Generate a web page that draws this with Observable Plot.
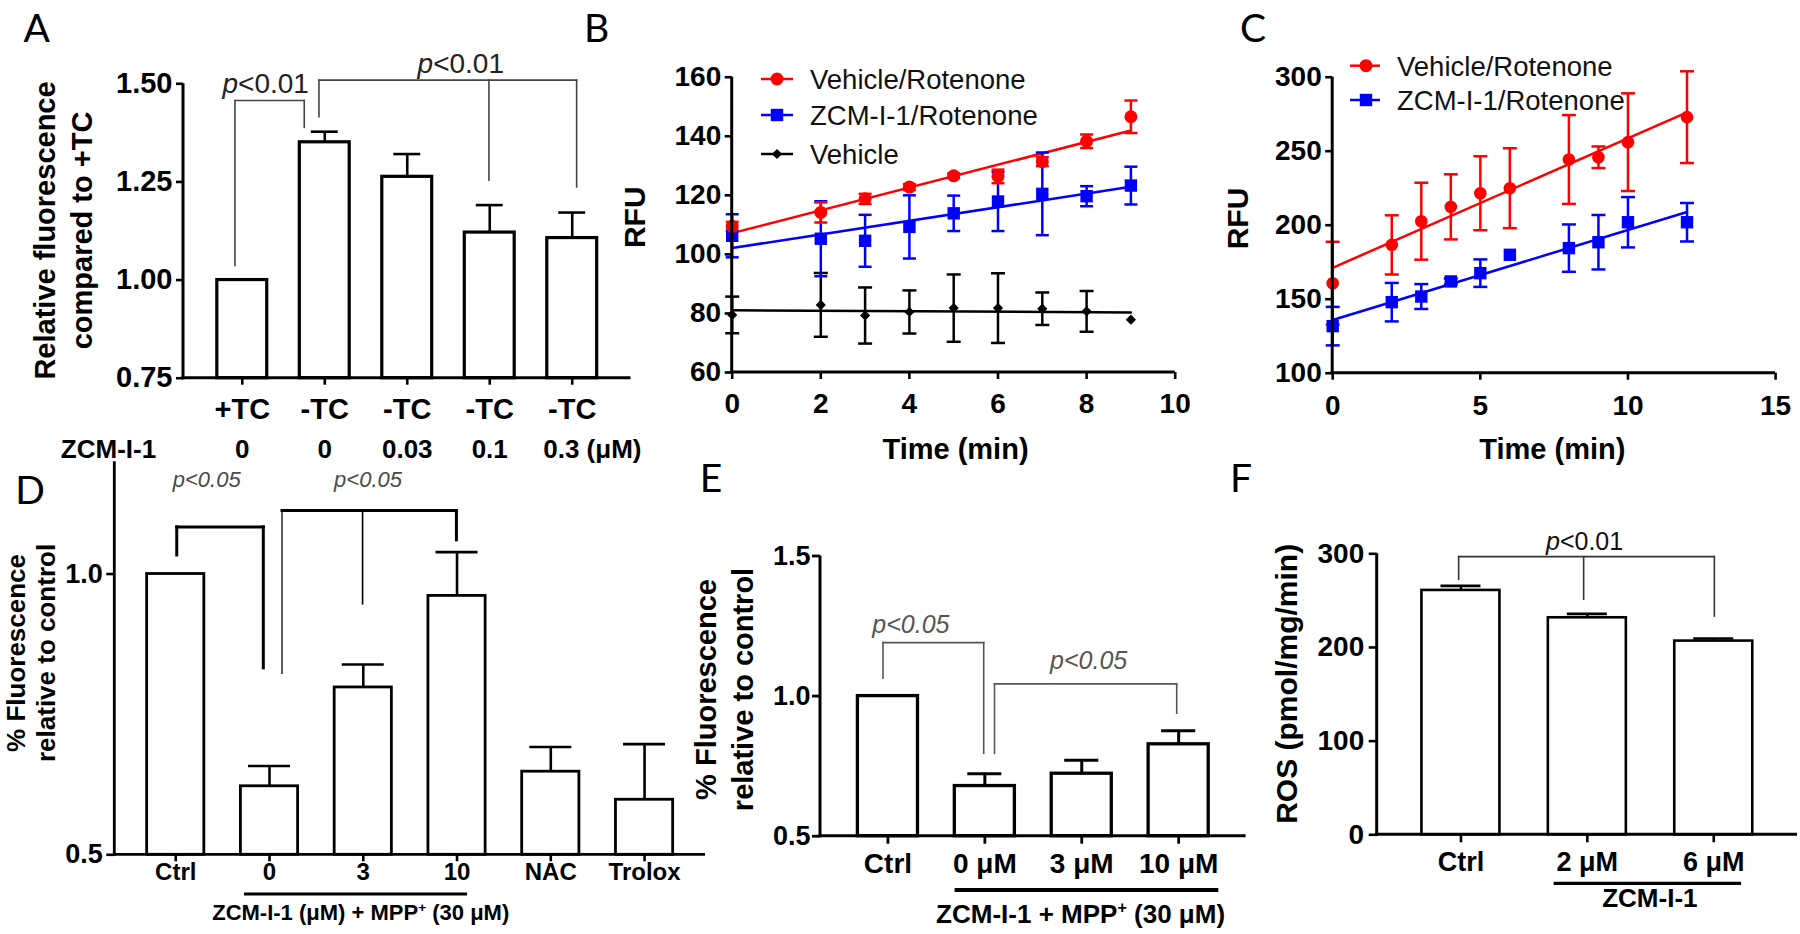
<!DOCTYPE html>
<html>
<head>
<meta charset="utf-8">
<script src="https://cdn.jsdelivr.net/npm/d3@7"></script>
<script src="https://cdn.jsdelivr.net/npm/@observablehq/plot@0.6"></script>
<style>
  html, body { margin: 0; padding: 0; background: #fff; }
  #fig { position: relative; width: 1800px; height: 934px; overflow: hidden; background: #fff; }
  .panel { position: absolute; }
  .panel svg { display: block; overflow: visible; max-width: none; }
</style>
</head>
<body>
<div id="fig"></div>
<script>
// ======================= DATA =======================
// Panel A
const aGroups = ["+TC", "-TC", "-TC", "-TC", "-TC"];
const aDoses = ["0", "0", "0.03", "0.1", "0.3"];
const aMeans = [1.00, 1.351, 1.263, 1.121, 1.107];
const aErrs = [0, 0.027, 0.058, 0.070, 0.065];
const aYDomain = [0.75, 1.5];
const aYTicks = [0.75, 1.00, 1.25, 1.50];
const aDoseTitle = "ZCM-I-1";
const aDoseUnit = "(\u03bcM)";
const aYLabel = "Relative fluorescence\ncompared to +TC";
const aPText = ["p<0.01", "p<0.01"];

// Panel B
const bTime = [0, 2, 3, 4, 5, 6, 7, 8, 9];
const bVehRot = [109.5, 114.2, 118.8, 122.8, 126.6, 126.4, 131.4, 138.3, 146.6];
const bVehRotErr = [1.5, 3.4, 1.7, 1.0, 0.8, 2.3, 1.5, 2.3, 5.5];
const bZcmRot = [106.3, 105.3, 104.6, 109.3, 113.9, 117.9, 120.5, 119.7, 123.3];
const bZcmRotErr = [7.3, 12.7, 8.8, 10.7, 6.0, 10.0, 14.0, 3.4, 6.4];
const bVeh = [79.5, 82.9, 79.3, 80.5, 81.8, 81.8, 81.6, 80.7, 77.9];
const bVehErr = [6.2, 10.8, 9.5, 7.3, 11.4, 11.8, 5.5, 6.9, 0];
const bXDomain = [0, 10], bYDomain = [60, 160];
const bXTicks = [0, 2, 4, 6, 8, 10];
const bYTicks = [60, 80, 100, 120, 140, 160];
const seriesNames = ["Vehicle/Rotenone", "ZCM-I-1/Rotenone", "Vehicle"];

// Panel C
const cTime = [0, 2, 3, 4, 5, 6, 8, 9, 10, 12];
const cVehRot = [160.8, 186.7, 202.7, 212.4, 221.6, 225.0, 244.4, 245.9, 256.1, 273.0];
const cVehRotErr = [28, 20, 26, 22, 25, 27, 30, 7.3, 33, 31];
const cZcmRot = [131.8, 148.0, 151.8, 162.0, 167.6, 180.0, 184.5, 188.5, 202.0, 202.0];
const cZcmRotErr = [13, 13, 8.4, 2, 9.3, 0, 16, 18.4, 17, 13];
const cXDomain = [0, 15], cYDomain = [100, 300];
const cXTicks = [0, 5, 10, 15];
const cYTicks = [100, 150, 200, 250, 300];

const xTitle = "Time (min)";
const rfuTitle = "RFU";

// Panel D
const dCats = ["Ctrl", "0", "3", "10", "NAC", "Trolox"];
const dMeans = [1.00, 0.622, 0.798, 0.961, 0.648, 0.598];
const dErrs = [0, 0.036, 0.041, 0.078, 0.044, 0.099];
const dYDomain = [0.5, 1.2];
const dYTicks = [0.5, 1.0];
const dYLabel = "% Fluorescence\nrelative to control";
const dGroupLabel = "ZCM-I-1 (\u03bcM) + MPP^+ (30 \u03bcM)";

// Panel E
const eCats = ["Ctrl", "0 \u03bcM", "3 \u03bcM", "10 \u03bcM"];
const eMeans = [1.00, 0.679, 0.723, 0.828];
const eErrs = [0, 0.044, 0.048, 0.048];
const eYDomain = [0.5, 1.5];
const eYTicks = [0.5, 1.0, 1.5];
const eYLabel = "% Fluorescence\nrelative to control";
const eGroupLabel = "ZCM-I-1 + MPP^+ (30 \u03bcM)";

// Panel F
const fCats = ["Ctrl", "2 \u03bcM", "6 \u03bcM"];
const fMeans = [260.9, 231.7, 206.8];
const fErrs = [4.9, 4.2, 2.8];
const fYDomain = [0, 300];
const fYTicks = [0, 100, 200, 300];
const fYLabel = "ROS (pmol/mg/min)";
const fGroupLabel = "ZCM-I-1";

// Significance brackets (category indices, values in data units)
const aBrackets = [
  {from: 0, to: 1, yFrom: 1.036, yTo: 1.388, top: 1.456, label: aPText[0], labelY: 1.4745},
  {from: 1, to: 4, yFrom: 1.415, yTo: 1.236, top: 1.508, mids: [{at: 3, y: 1.253}], label: aPText[1], labelY: 1.5255}
];
const dBrackets = [
  {from: 0, to: 1, yFrom: 1.033, yTo: 0.832, top: 1.083, label: "p<0.05", labelY: 1.1546},
  {from: 1, to: 3, yFrom: 0.822, yTo: 1.060, top: 1.112, mids: [{at: 2, y: 0.946}], label: "p<0.05", labelY: 1.1546}
];
const eBrackets = [
  {from: 0, to: 1, yFrom: 1.062, yTo: 0.794, top: 1.189, label: "p<0.05", labelY: 1.223},
  {from: 1, to: 3, yFrom: 0.794, yTo: 0.937, top: 1.042, label: "p<0.05", labelY: 1.094}
];
const fBrackets = [
  {from: 0, to: 2, yFrom: 272.2, yTo: 233.0, top: 296.4, mids: [{at: 1, y: 250.9}], label: "p<0.01", labelY: 303.5}
];

// ======================= HELPERS =======================
const FONT = '"Liberation Sans", Arial, Helvetica, sans-serif';
const RED = "#ff0000", BLUE = "#0000ff", BLACK = "#000000";
const baseStyle = {background: "transparent", color: "#000", fontFamily: FONT, fontSize: "28px", fontWeight: "bold", overflow: "visible"};

function layout(box, frame) {
  const [L, T, W, H] = box; const [x0, x1, y0, y1] = frame;
  return {width: W, height: H, marginLeft: x0 - L, marginRight: L + W - x1, marginTop: y0 - T, marginBottom: T + H - y1};
}
function place(node, box) {
  const div = document.createElement("div");
  div.className = "panel";
  Object.assign(div.style, {left: box[0] + "px", top: box[1] + "px", width: box[2] + "px", height: box[3] + "px"});
  div.appendChild(node);
  document.getElementById("fig").appendChild(div);
}
function frameLines(sw) {
  return (index, scales, values, dim) => {
    const {width, height, marginLeft: ml, marginRight: mr, marginTop: mt, marginBottom: mb} = dim;
    const g = d3.create("svg:g").attr("stroke", "#000").attr("stroke-width", sw).attr("fill", "none");
    g.append("line").attr("x1", ml).attr("x2", ml).attr("y1", mt).attr("y2", height - mb + sw / 2);
    g.append("line").attr("x1", ml - sw / 2).attr("x2", width - mr).attr("y1", height - mb).attr("y2", height - mb);
    return g.node();
  };
}
function writeP(text, str, allItalic) {
  if (allItalic) { text.attr("font-style", "italic").text(str); return; }
  text.append("tspan").attr("font-style", "italic").text(str.slice(0, 1));
  text.append("tspan").text(str.slice(1));
}
// bracket mark drawn through the plot's own x/y scales
function bracketMark(list, keys, st) {
  return (index, scales) => {
    const x = scales.x, y = scales.y;
    const half = typeof x.bandwidth === "function" ? x.bandwidth() / 2 : 0;
    const cx = (i, dx) => x(keys[i]) + half + (dx || 0);
    const g = d3.create("svg:g").attr("fill", "none");
    const seg = (x1, y1, x2, y2, w) => g.append("line").attr("x1", x1).attr("y1", y1).attr("x2", x2).attr("y2", y2)
      .attr("stroke", st.stroke).attr("stroke-width", w).attr("stroke-linecap", "square");
    list.forEach((b, k) => {
      const o = st.offsets[k];
      const x1 = cx(b.from, o.dxFrom), x2 = cx(b.to, o.dxTo), yt = y(b.top);
      const w = o.widths || [st.sw, st.sw, st.sw, st.sw];
      seg(x1, y(b.yFrom), x1, yt, w[0]);
      seg(x1, yt, x2, yt, w[1]);
      seg(x2, yt, x2, y(b.yTo), w[2]);
      (b.mids || []).forEach((m, j) => { const xm = cx(m.at, (o.midDx || [])[j]); seg(xm, yt, xm, y(m.y), w[3]); });
      const t = g.append("text").attr("fill", st.color).attr("stroke", "none").attr("font-family", FONT)
        .attr("font-size", st.fontSize).attr("font-weight", "normal").attr("text-anchor", "middle")
        .attr("x", (x1 + x2) / 2 + (o.labelDx || 0)).attr("y", y(b.labelY));
      writeP(t, b.label, st.allItalic);
    });
    return g.node();
  };
}
// underline + group caption below a set of categories
function groupMark(keys, g, st) {
  return (index, scales, values, dim) => {
    const x = scales.x, half = x.bandwidth() / 2;
    const base = dim.height - dim.marginBottom;
    const x1 = x(keys[g.from]) + half + g.dxFrom, x2 = x(keys[g.to]) + half + g.dxTo;
    const G = d3.create("svg:g");
    G.append("line").attr("x1", x1).attr("x2", x2).attr("y1", base + g.dy).attr("y2", base + g.dy)
      .attr("stroke", "#000").attr("stroke-width", st.sw);
    const t = G.append("text").attr("x", (x1 + x2) / 2 + g.labelDx).attr("y", base + g.labelDy + 0.36 * st.fontSize)
      .attr("text-anchor", "middle").attr("font-family", FONT).attr("font-weight", "bold")
      .attr("font-size", st.fontSize).attr("fill", "#000");
    const parts = g.label.split("^+");
    t.append("tspan").text(parts[0]);
    if (parts.length > 1) {
      t.append("tspan").attr("font-size", st.fontSize * 0.62).attr("dy", -st.fontSize * 0.38).text("+");
      t.append("tspan").attr("dy", st.fontSize * 0.38).text(parts[1]);
    }
    return G.node();
  };
}
const capSym = {draw(ctx, size) { const w = Math.sqrt(size / Math.PI); ctx.moveTo(-w, 0); ctx.lineTo(w, 0); }};
function series(time, vals, errs) { return time.map((t, i) => ({t, v: vals[i], e: errs[i]})); }
function errMarks(data, color, capR, sw) {
  const d = data.filter(p => p.e > 0);
  return [
    Plot.ruleX(d, {x: "t", y1: p => p.v - p.e, y2: p => p.v + p.e, stroke: color, strokeWidth: sw}),
    Plot.dot(d, {x: "t", y: p => p.v + p.e, symbol: capSym, r: capR, stroke: color, fill: "none", strokeWidth: sw}),
    Plot.dot(d, {x: "t", y: p => p.v - p.e, symbol: capSym, r: capR, stroke: color, fill: "none", strokeWidth: sw})
  ];
}
function barMarks(data, keys, yDomain, o) {
  const withErr = data.filter(d => d.err > 0);
  return [
    Plot.barY(data, {x: "key", y1: () => yDomain[0], y2: "mean", fill: "#fff", stroke: "#000", strokeWidth: o.sw}),
    Plot.ruleX(withErr, {x: "key", y1: "mean", y2: d => d.mean + d.err, stroke: "#000", strokeWidth: o.esw}),
    Plot.tickY(withErr, {x: "key", y: d => d.mean + d.err, stroke: "#000", strokeWidth: o.esw, insetLeft: o.capInset, insetRight: o.capInset})
  ];
}
const yTitle = (text, dx, dy, fontSize, lineHeight) =>
  Plot.text([text], {frameAnchor: "left", dx, dy, rotate: -90, textAnchor: "middle", lineAnchor: "middle",
    fontSize, fontWeight: "bold", lineHeight: lineHeight || 1, fill: "#000"});
const belowText = (data, opts) => Plot.text(data, {frameAnchor: "bottom", lineAnchor: "middle", fontWeight: "bold", ...opts});

// ======================= PANEL A =======================
{
  const data = aGroups.map((g, i) => ({key: g + "|" + aDoses[i], group: g, dose: aDoses[i], mean: aMeans[i], err: aErrs[i]}));
  const keys = data.map(d => d.key);
  const box = [0, 0, 670, 470];
  place(Plot.plot({
    ...layout(box, [183, 630.5, 83.3, 377.7]),
    style: baseStyle,
    x: {domain: keys, paddingInner: 0.395, paddingOuter: 0.41, round: false, label: null},
    y: {domain: aYDomain, label: null},
    marks: [
      ...barMarks(data, keys, aYDomain, {sw: 3.2, esw: 2.6, capInset: 11.5}),
      frameLines(3),
      Plot.axisY({ticks: aYTicks, tickFormat: d3.format(".2f"), tickSize: 7, tickPadding: 4, fontSize: 29, fontWeight: "bold", strokeWidth: 2.6, label: null}),
      Plot.axisX({tickFormat: k => k.split("|")[0], tickSize: 7, tickPadding: 13.6, fontSize: 29, fontWeight: "bold", strokeWidth: 2.6, label: null}),
      belowText(data.slice(0, 4), {x: "key", text: "dose", dy: 71.3, fontSize: 26}),
      belowText(data.slice(4), {x: "key", text: d => d.dose + " " + aDoseUnit, dy: 71.3, dx: -29, textAnchor: "start", fontSize: 26}),
      Plot.text([aDoseTitle], {frameAnchor: "bottom-left", lineAnchor: "middle", dx: -75, dy: 71.3, textAnchor: "middle", fontSize: 26, fontWeight: "bold"}),
      yTitle(aYLabel, -121.5, -0.5, 29, 1.28),
      bracketMark(aBrackets, keys, {stroke: "#444", sw: 1.6, color: "#222", fontSize: 28, allItalic: false,
        offsets: [{dxFrom: -6.8, dxTo: -20, labelDx: -3.9}, {dxFrom: -5.3, dxTo: 4.9, midDx: [-0.3], labelDx: 13}]})
    ]
  }), box);
}

// ======================= PANEL B =======================
{
  const red = series(bTime, bVehRot, bVehRotErr), blue = series(bTime, bZcmRot, bZcmRotErr), black = series(bTime, bVeh, bVehErr);
  const box = [600, 0, 590, 470];
  place(Plot.plot({
    ...layout(box, [731.7, 1174.7, 76.7, 372]),
    style: baseStyle,
    x: {domain: bXDomain, label: null},
    y: {domain: bYDomain, label: null},
    marks: [
      Plot.linearRegressionY(black, {x: "t", y: "v", stroke: BLACK, strokeWidth: 2.5, ci: 0}),
      Plot.linearRegressionY(blue, {x: "t", y: "v", stroke: BLUE, strokeWidth: 2.5, ci: 0}),
      Plot.linearRegressionY(red, {x: "t", y: "v", stroke: RED, strokeWidth: 2.5, ci: 0}),
      ...errMarks(black, BLACK, 7, 2.5),
      ...errMarks(blue, BLUE, 6.5, 2.5),
      ...errMarks(red, RED, 6.5, 2.5),
      Plot.dot(black, {x: "t", y: "v", symbol: "diamond2", r: 4.6, fill: BLACK, stroke: "none"}),
      Plot.dot(blue, {x: "t", y: "v", symbol: "square", r: 7, fill: BLUE, stroke: "none"}),
      Plot.dot(red, {x: "t", y: "v", symbol: "circle", r: 6.5, fill: RED, stroke: "none"}),
      frameLines(3),
      Plot.axisY({ticks: bYTicks, tickSize: 7, tickPadding: 4, fontSize: 28, fontWeight: "bold", strokeWidth: 2.6, label: null}),
      Plot.axisX({ticks: bXTicks, tickSize: 7, tickPadding: 14, fontSize: 28, fontWeight: "bold", strokeWidth: 2.6, label: null}),
      yTitle(rfuTitle, -96.7, -7.6, 30),
      belowText([xTitle], {dx: 1.8, dy: 77, fontSize: 29})
    ]
  }), box);
}

// ======================= PANEL C =======================
{
  const red = series(cTime, cVehRot, cVehRotErr), blue = series(cTime, cZcmRot, cZcmRotErr);
  const box = [1190, 0, 610, 470];
  place(Plot.plot({
    ...layout(box, [1332.2, 1775.1, 76.7, 372.7]),
    style: baseStyle,
    x: {domain: cXDomain, label: null},
    y: {domain: cYDomain, label: null},
    marks: [
      Plot.linearRegressionY(blue, {x: "t", y: "v", stroke: BLUE, strokeWidth: 2.5, ci: 0}),
      Plot.linearRegressionY(red, {x: "t", y: "v", stroke: RED, strokeWidth: 2.5, ci: 0}),
      ...errMarks(red, RED, 7, 2.5),
      ...errMarks(blue, BLUE, 7, 2.5),
      Plot.dot(red, {x: "t", y: "v", symbol: "circle", r: 6.3, fill: RED, stroke: "none"}),
      Plot.dot(blue, {x: "t", y: "v", symbol: "square", r: 7, fill: BLUE, stroke: "none"}),
      frameLines(3),
      Plot.axisY({ticks: cYTicks, tickSize: 7, tickPadding: 4, fontSize: 28, fontWeight: "bold", strokeWidth: 2.6, label: null}),
      Plot.axisX({ticks: cXTicks, tickSize: 7, tickPadding: 15, fontSize: 28, fontWeight: "bold", strokeWidth: 2.6, label: null}),
      yTitle(rfuTitle, -94.7, -6.7, 30),
      belowText([xTitle], {dx: -1.8, dy: 77, fontSize: 29})
    ]
  }), box);
}

// ======================= PANEL D =======================
{
  const data = dCats.map((c, i) => ({key: c, mean: dMeans[i], err: dErrs[i]}));
  const keys = dCats;
  const box = [0, 440, 720, 494];
  place(Plot.plot({
    ...layout(box, [114.3, 705, 461.2, 854.3]),
    style: baseStyle,
    x: {domain: keys, paddingInner: 0.39, paddingOuter: 0.345, round: false, label: null},
    y: {domain: dYDomain, label: null},
    marks: [
      ...barMarks(data, keys, dYDomain, {sw: 2.8, esw: 2.6, capInset: 7.6}),
      frameLines(2.8),
      Plot.axisY({ticks: dYTicks, tickFormat: d3.format(".1f"), tickSize: 8, tickPadding: 4, fontSize: 27, fontWeight: "bold", strokeWidth: 2.6, label: null}),
      Plot.axisX({tickSize: 7, tickPadding: 1.5, fontSize: 24, fontWeight: "bold", strokeWidth: 2.6, label: null}),
      yTitle(dYLabel, -84.8, -5.3, 26, 1.15),
      bracketMark(dBrackets, keys, {stroke: "#000", sw: 3, color: "#4a4a4a", fontSize: 22, allItalic: true,
        offsets: [{dxFrom: 1.5, dxTo: -5.7, labelDx: -13.3}, {dxFrom: 13, dxTo: -0.1, midDx: [-0.2], labelDx: -1.2, widths: [1.3, 3, 3, 1.6]}]}),
      groupMark(keys, {from: 1, to: 3, dxFrom: -25, dxTo: 10.5, dy: 39.7, labelDx: 5.2, labelDy: 58.2, label: dGroupLabel}, {sw: 3.2, fontSize: 22})
    ]
  }), box);
}

// ======================= PANEL E =======================
{
  const data = eCats.map((c, i) => ({key: c, mean: eMeans[i], err: eErrs[i]}));
  const keys = eCats;
  const box = [720, 440, 540, 494];
  place(Plot.plot({
    ...layout(box, [820, 1245.6, 555.5, 835.7]),
    style: baseStyle,
    x: {domain: keys, paddingInner: 0.38, paddingOuter: 0.386, round: false, label: null},
    y: {domain: eYDomain, label: null},
    marks: [
      ...barMarks(data, keys, eYDomain, {sw: 3.3, esw: 3, capInset: 13}),
      frameLines(3),
      Plot.axisY({ticks: eYTicks, tickFormat: d3.format(".1f"), tickSize: 8, tickPadding: 2, fontSize: 27, fontWeight: "bold", strokeWidth: 2.8, label: null}),
      Plot.axisX({tickSize: 8, tickPadding: 8.6, fontSize: 28, fontWeight: "bold", strokeWidth: 2.8, label: null}),
      yTitle(eYLabel, -97.5, -6.6, 29, 1.27),
      bracketMark(eBrackets, keys, {stroke: "#555", sw: 1.6, color: "#555", fontSize: 25, allItalic: true,
        offsets: [{dxFrom: -4.45, dxTo: -0.65, labelDx: -22.4}, {dxFrom: 10.15, dxTo: -1.45, labelDx: 3.1}]}),
      groupMark(keys, {from: 1, to: 3, dxFrom: -29.75, dxTo: 40.15, dy: 54.3, labelDx: -5.85, labelDy: 77.6, label: eGroupLabel}, {sw: 4, fontSize: 26})
    ]
  }), box);
}

// ======================= PANEL F =======================
{
  const data = fCats.map((c, i) => ({key: c, mean: fMeans[i], err: fErrs[i]}));
  const keys = fCats;
  const box = [1260, 440, 540, 494];
  place(Plot.plot({
    ...layout(box, [1376.7, 1797, 553.3, 834.3]),
    style: baseStyle,
    x: {domain: keys, paddingInner: 0.383, paddingOuter: 0.354, round: false, label: null},
    y: {domain: fYDomain, label: null},
    marks: [
      ...barMarks(data, keys, fYDomain, {sw: 2.6, esw: 2.6, capInset: 19}),
      frameLines(3),
      Plot.axisY({ticks: fYTicks, tickSize: 8, tickPadding: 5, fontSize: 28, fontWeight: "bold", strokeWidth: 2.6, label: null}),
      Plot.axisX({tickSize: 8, tickPadding: 9, fontSize: 27, fontWeight: "bold", strokeWidth: 2.6, label: null}),
      yTitle(fYLabel, -89.7, -10.5, 30),
      bracketMark(fBrackets, keys, {stroke: "#333", sw: 1.6, color: "#111", fontSize: 25, allItalic: false,
        offsets: [{dxFrom: -1.8, dxTo: 1.1, midDx: [-3.2], labelDx: -1.9}]}),
      groupMark(keys, {from: 1, to: 2, dxFrom: -33.2, dxTo: 27.8, dy: 49, labelDx: 2.5, labelDy: 63.2, label: fGroupLabel}, {sw: 3.2, fontSize: 26})
    ]
  }), box);
}

// ======================= OVERLAY: panel letters & legends =======================
const over = d3.select("#fig").append("svg")
  .attr("width", 1800).attr("height", 934)
  .style("position", "absolute").style("left", "0px").style("top", "0px").style("overflow", "visible");

const letters = [["A", 36.8, 28.3], ["B", 596.6, 28.3], ["C", 1253, 28.3], ["D", 30, 490], ["E", 711, 478], ["F", 1241, 478]];
letters.forEach(([t, x, y]) => {
  over.append("text").attr("x", x).attr("y", y + 0.36 * 39).attr("text-anchor", "middle")
    .attr("font-family", 'Lato, "Open Sans", sans-serif').attr("font-size", 39).attr("fill", "#000").text(t);
});

function drawLegend(entries, pos) {
  entries.forEach((e, i) => {
    const y = pos.ys[i];
    over.append("line").attr("x1", pos.x0).attr("x2", pos.x1).attr("y1", y).attr("y2", y).attr("stroke", e.color).attr("stroke-width", 2.5);
    over.append("path").attr("d", d3.symbol(e.symbol, Math.PI * e.r * e.r)()).attr("transform", `translate(${pos.xm},${y})`).attr("fill", e.color);
    over.append("text").attr("x", pos.xt).attr("y", y + 0.36 * 27.5).attr("font-family", FONT).attr("font-size", 27.5).attr("fill", "#111").text(e.label);
  });
}
const legendEntries = [
  {label: seriesNames[0], color: RED, symbol: d3.symbolCircle, r: 6.5},
  {label: seriesNames[1], color: BLUE, symbol: d3.symbolSquare, r: 7},
  {label: seriesNames[2], color: BLACK, symbol: d3.symbolDiamond2, r: 4.6}
];
drawLegend(legendEntries, {x0: 761, x1: 793, xm: 777, xt: 810, ys: [79, 115, 154]});
drawLegend(legendEntries.slice(0, 2), {x0: 1350, x1: 1380, xm: 1366, xt: 1397, ys: [65.7, 100]});
</script>
</body>
</html>
